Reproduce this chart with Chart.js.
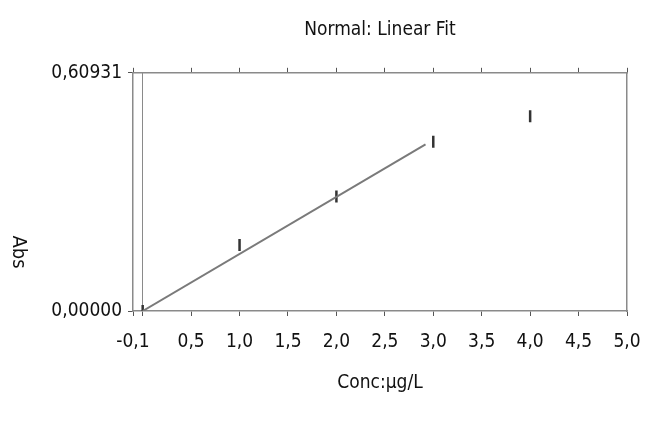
<!DOCTYPE html>
<html lang="en">
    <head>
        <meta charset="UTF-8">
        <title>Normal: Linear Fit</title>
        <style>
            html, body { margin: 0; padding: 0; background: #fff; }
            #wrap { width: 646px; height: 423px; }
        </style>
    </head>
    <body>
        <div id="wrap">
            <canvas id="myChart" width="646" height="423"></canvas>
        </div>

<script src="https://cdn.jsdelivr.net/npm/chart.js"></script>
<script>
    // calibration standards (conc, abs)
    var conc = [0.0, 1.0, 2.0, 3.0, 4.0];
    var abs = [0.0, 0.169, 0.293, 0.433, 0.498];

    // fitted line end points
    var fitConc = [0.0, 2.92];
    var fitAbs = [0.0, 0.426];

    var xTicks = [-0.1, 0.5, 1.0, 1.5, 2.0, 2.5, 3.0, 3.5, 4.0, 4.5, 5.0];
    var yTicks = [0.0, 0.60931];

    var FONT = "'Liberation Sans Narrow', 'DejaVu Sans Condensed', sans-serif";
    var INK = '#111';
    var LINE = '#8a8a8a';

    function pts(xs, ys) {
        return xs.map(function (x, i) { return { x: x, y: ys[i] }; });
    }

    function comma(v, d) {
        return v.toFixed(d).replace('.', ',');
    }

    // y title reads top to bottom in the original
    var absTitle = {
        id: 'absTitle',
        afterDraw: function (chart) {
            var ctx = chart.ctx;
            ctx.save();
            ctx.translate(18, 252);
            ctx.rotate(Math.PI / 2);
            ctx.font = '20px ' + FONT;
            ctx.fillStyle = INK;
            ctx.textAlign = 'center';
            ctx.textBaseline = 'middle';
            ctx.fillText('Abs', 0, 0);
            ctx.restore();
        }
    };

    var xGrid = {
        drawOnChartArea: true,
        tickLength: 5,
        tickColor: '#555',
        color: function (c) { return c.tick && c.tick.value === 0 ? LINE : 'transparent'; }
    };

    function noSidePad(s) {
        s.paddingLeft = 0;
        s.paddingRight = 0;
    }

    new Chart('myChart', {
        type: 'scatter',
        data: {
            datasets: [{
                label: 'fit',
                data: pts(fitConc, fitAbs),
                showLine: true,
                borderColor: '#7a7a7a',
                borderWidth: 2,
                pointRadius: 0
            }, {
                label: 'std',
                data: pts(conc, abs),
                pointStyle: 'line',
                rotation: 90,
                pointRadius: 6,
                borderWidth: 2.5,
                borderColor: '#333',
                backgroundColor: '#333'
            }]
        },
        options: {
            responsive: false,
            animation: false,
            layout: { padding: { left: 0, right: 19, top: 0, bottom: 0 } },
            plugins: {
                legend: { display: false },
                tooltip: { enabled: false },
                title: {
                    display: true,
                    fullSize: false,
                    text: 'Normal: Linear Fit',
                    color: INK,
                    font: { family: FONT, size: 19, weight: 'normal' },
                    padding: { top: 19, bottom: 26 }
                }
            },
            scales: {
                x: {
                    type: 'linear',
                    position: 'bottom',
                    min: -0.1,
                    max: 5.0,
                    afterBuildTicks: function (s) {
                        s.ticks = [-0.1, 0].concat(xTicks.slice(1)).map(function (v) { return { value: v }; });
                    },
                    afterFit: function (s) { s.height = 112; noSidePad(s); },
                    border: { color: LINE, width: 1.5 },
                    grid: xGrid,
                    ticks: {
                        color: INK,
                        padding: 15,
                        maxRotation: 0,
                        autoSkip: false,
                        font: { family: FONT, size: 19 },
                        callback: function (v) { return v === 0 ? '' : comma(v, 1); }
                    },
                    title: {
                        display: true,
                        text: 'Conc:\u00b5g/L',
                        color: INK,
                        font: { family: FONT, size: 19 },
                        padding: { top: 0, bottom: 29 }
                    }
                },
                x2: {
                    type: 'linear',
                    position: 'top',
                    min: -0.1,
                    max: 5.0,
                    afterBuildTicks: function (s) {
                        s.ticks = xTicks.map(function (v) { return { value: v }; });
                    },
                    afterFit: function (s) { s.height = 5; noSidePad(s); },
                    border: { color: LINE, width: 1.5 },
                    grid: { drawOnChartArea: false, tickLength: 5, tickColor: '#555' },
                    ticks: { display: false }
                },
                y: {
                    type: 'linear',
                    min: 0,
                    max: 0.60931,
                    afterBuildTicks: function (s) {
                        s.ticks = yTicks.map(function (v) { return { value: v }; });
                    },
                    afterFit: function (s) { s.width = 133; },
                    border: { color: LINE, width: 1.5 },
                    grid: { drawOnChartArea: false, tickLength: 5, tickColor: '#555' },
                    ticks: {
                        color: INK,
                        padding: 6,
                        font: { family: FONT, size: 19 },
                        callback: function (v) { return comma(v, 5); }
                    }
                },
                y2: {
                    type: 'linear',
                    position: 'right',
                    min: 0,
                    max: 0.60931,
                    afterFit: function (s) { s.width = 0; },
                    border: { color: LINE, width: 1.5 },
                    grid: { display: false },
                    ticks: { display: false }
                }
            }
        },
        plugins: [absTitle]
    });
</script>
    </body>
</html>
